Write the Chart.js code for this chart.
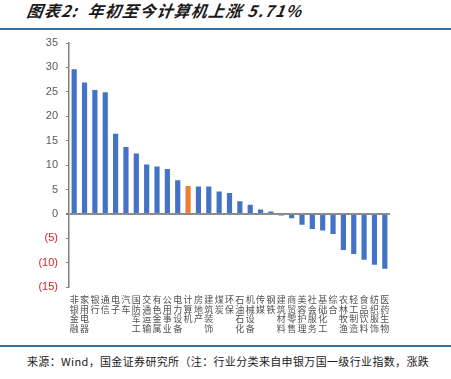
<!DOCTYPE html>
<html><head><meta charset="utf-8">
<script src="https://cdn.jsdelivr.net/npm/chart.js@4.4.1/dist/chart.umd.min.js"></script>
<style>
html,body{margin:0;padding:0;background:#fff;}
#wrap{position:relative;width:451px;height:379px;overflow:hidden;}
#title{position:absolute;left:27px;top:-1px;font-family:"Noto Sans CJK SC","DejaVu Sans",sans-serif;font-size:16px;letter-spacing:1.2px;font-weight:bold;font-style:italic;color:#1a1a1a;white-space:nowrap;line-height:22px;transform:skewX(-8deg);}
#topline{position:absolute;left:0;top:28px;width:451px;height:2px;background:#3a6f9a;}
#botline{position:absolute;left:0;top:345px;width:451px;height:2px;background:#3a6f9a;}
#source{position:absolute;left:27px;top:353px;font-family:"Noto Sans CJK SC","DejaVu Sans",sans-serif;font-size:11px;letter-spacing:0.35px;color:#1a1a1a;white-space:nowrap;line-height:16px;}
#c{position:absolute;left:0;top:0;}
</style></head>
<body><div id="wrap">
<div id="title">图表2:&nbsp; 年初至今计算机上涨 5.71%</div>
<div id="topline"></div>
<canvas id="c" width="451" height="345"></canvas>
<div id="botline"></div>
<div id="source">来源：Wind，国金证券研究所（注：行业分类来自申银万国一级行业指数，涨跌</div>
</div>
<script>
const categories = ['非银金融','家用电器','银行','通信','电子','汽车','国防军工','交通运输','有色金属','公用事业','电力设备','计算机','房地产','建筑装饰','煤炭','环保','石油石化','机械设备','传媒','钢铁','建筑材料','商贸零售','美容护理','社会服务','基础化工','综合','农林牧渔','轻工制造','食品饮料','纺织服饰','医药生物'];
const values = [29.6, 26.9, 25.4, 24.9, 16.4, 13.7, 12.4, 10.1, 9.7, 9.2, 6.9, 5.71, 5.6, 5.6, 4.6, 4.3, 2.6, 1.9, 0.9, 0.5, -0.3, -0.9, -2.2, -3.1, -3.4, -4.1, -7.4, -8.2, -9.4, -10.4, -11.2];
const highlight = '计算机';
const yMin = -15, yMax = 35, yStep = 5;

const colors = categories.map(c => c === highlight ? '#ED7D31' : '#4472C4');
const labels = categories.map(c => c.split(''));

new Chart(document.getElementById('c'), {
  type: 'bar',
  data: { labels: labels, datasets: [{ data: values, backgroundColor: colors, borderWidth: 0, barPercentage: 0.5, categoryPercentage: 1.0 }] },
  options: {
    responsive: false, animation: false,
    layout: { padding: { left: 0, right: 61, top: 43, bottom: 4 } },
    plugins: { legend: { display: false }, tooltip: { enabled: false } },
    scales: {
      x: {
        grid: { display: false, drawTicks: false },
        border: { display: false },
        ticks: { maxRotation: 0, minRotation: 0, autoSkip: false, padding: 8, color: '#505050',
          font: { family: '"Noto Sans CJK SC", sans-serif', size: 9, lineHeight: 1.05 } }
      },
      y: {
        min: yMin, max: yMax,
        afterFit: s => { s.width = 69; },
        border: { display: true, color: '#808080', width: 1.5 },
        grid: {
          drawOnChartArea: true, drawTicks: true, tickLength: 3,
          color: ctx => (ctx.tick && ctx.tick.value === 0) ? '#8c8c8c' : 'rgba(0,0,0,0)',
          lineWidth: ctx => (ctx.tick && ctx.tick.value === 0) ? 2 : 1,
          tickColor: '#808080'
        },
        ticks: {
          stepSize: yStep, padding: 8,
          color: ctx => ctx.tick.value < 0 ? '#e02020' : '#595959',
          font: { family: '"Liberation Sans", Arial, sans-serif', size: 11 },
          callback: v => v < 0 ? '(' + Math.abs(v) + ')' : String(v)
        }
      }
    }
  }
});
</script>
</body></html>
